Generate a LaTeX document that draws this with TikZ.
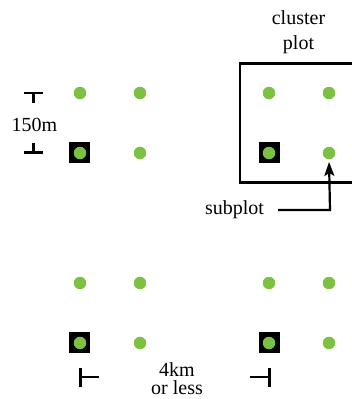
\documentclass[tikz,border=0pt]{standalone}
\usepackage{fontspec}
\setmainfont{Liberation Serif}
\usetikzlibrary{arrows.meta}
\definecolor{dotgreen}{RGB}{125,193,66}
\begin{document}
\begin{tikzpicture}[x=1pt,y=-1pt,
  dot/.style={circle,fill=dotgreen,inner sep=0pt,minimum size=12.5pt},
  blacksq/.style={rectangle,fill=black,inner sep=0pt,minimum size=21pt},
  lbl/.style={font=\fontsize{20}{25}\selectfont,inner sep=0pt},
  bar/.style={line width=2.2pt},
  conn/.style={line width=2.2pt}]
\useasboundingbox (0,0) rectangle (351,399);
% black squares
\node[blacksq] (s1) at (79.5,152.5) {};
\node[blacksq] (s2) at (269.5,152.5) {};
\node[blacksq] (s3) at (79.5,342.5) {};
\node[blacksq] (s4) at (269.5,342.5) {};
% dots
\foreach \c/\x in {a/80,b/140,c/269,d/329}{
  \foreach \r/\y in {1/93,2/153,3/283,4/343}{
    \node[dot] (\c\r) at (\x,\y) {};
  }
}
% cluster box
\draw[line width=2.2pt] (352,63.5) -- (240,63.5) -- (240,182.5) -- (352,182.5);
\node[lbl,align=center] (cl) at (298.5,32.5) {cluster\\plot};
% subplot
\node[lbl,anchor=base] (sp) at (234.5,214) {subplot};
\coordinate (spstart) at (278,210);
\draw[conn,shorten >=2.5pt,-{Stealth[length=14pt,width=10pt,inset=3pt]}] (spstart) -- (330,210) -- (d2.south);
% 150m
\node[lbl,anchor=base] (m150) at (34.5,131) {150m};
\coordinate (t1) at (33.5,93);
\coordinate (t2) at (33.5,152.5);
\draw[bar] (24,93) -- (43,93);
\draw[bar] (t1) -- ++(0,10);
\draw[bar] (24,152.5) -- (43,152.5);
\draw[bar] (t2) -- ++(0,-10);
% 4km
\node[lbl,align=center,font=\fontsize{20}{18}\selectfont] (km) at (177,379) {4km\\or less};
\coordinate (k1) at (80.5,377);
\coordinate (k2) at (269.5,377);
\draw[bar] (80.5,368) -- (80.5,387);
\draw[bar] (k1) -- (99,377);
\draw[bar] (269.5,368) -- (269.5,387);
\draw[bar] (k2) -- (250,377);
\end{tikzpicture}
\end{document}
